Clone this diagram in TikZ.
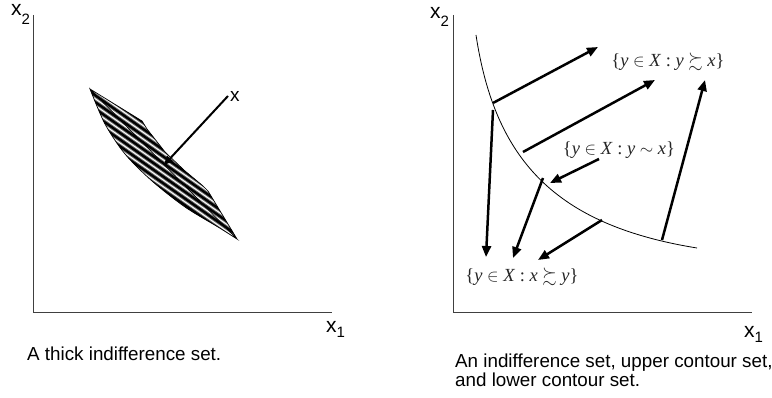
\documentclass[tikz,border=0pt]{standalone}
\usepackage{amssymb}
\usepackage{fontspec}
\setmainfont{Liberation Sans}
\newfontfamily\tms{Liberation Serif}
\usetikzlibrary{arrows.meta}
\begin{document}
\begin{tikzpicture}[x=1pt,y=-1pt,
  axis/.style={draw=black!75, line width=1pt},
  arr/.style={line width=2.5pt, -{Triangle[length=11pt,width=9pt]}},
  thinarr/.style={line width=2pt, -{Triangle[length=9pt,width=8pt]}},
  lbl/.style={inner sep=0pt, anchor=base west, font=\fontsize{21}{24}\selectfont},
  captxt/.style={inner sep=0pt, anchor=base west, font=\fontsize{18.8}{21}\selectfont},
  setl/.style={inner sep=0pt, font=\fontsize{18.5}{20}\selectfont\tms, text=black!85}]
\useasboundingbox (0,0) rectangle (772,398);

% ---------- left panel ----------
\coordinate (ly) at (33,15);
\coordinate (lo) at (33,313);
\coordinate (lx) at (332,313);
\draw[axis] (ly) -- (lo) -- (lx);
\node[lbl] (lx2) at (11,16) {x\raisebox{-9pt}{\fontsize{15}{15}\selectfont 2}};
\node[lbl] (lx1) at (326,333) {x\raisebox{-5pt}{\fontsize{15}{15}\selectfont 1}};

% thick indifference band
\def\band{(90,89) -- (142,121) -- (147,129) -- (165,152) -- (185,171) -- (203,186) -- (208,191) -- (237,239)
  plot[smooth] coordinates {(237,239) (218,227) (185,207) (152,181) (125,154) (105,124) (90,89)} -- cycle}
\begin{scope}
  \clip \band;
  \begin{scope}[shift={(163,163)}, rotate=-35]
    \foreach \k in {-30,...,30} {
      \draw[line width=4.2pt, black!55] (-150,\k*5.5) -- (150,\k*5.5);
      \draw[line width=2.3pt, black] (-150,\k*5.5) -- (150,\k*5.5);
    }
  \end{scope}
\end{scope}
\draw[line width=0.7pt] \band;

\node[lbl, font=\fontsize{19}{20}\selectfont] (xl) at (230,102) {x};
\coordinate (xs) at (228,96);
\coordinate (xt) at (164,165);
\draw[thinarr] (xs) -- (xt);

\node[captxt] (cap1) at (27,361) {A thick indifference set.};

% ---------- right panel ----------
\coordinate (ry) at (453,15);
\coordinate (ro) at (453,313);
\coordinate (rx) at (752,313);
\draw[axis] (ry) -- (ro) -- (rx);
\node[lbl] (rx2) at (430,19) {x\raisebox{-8pt}{\fontsize{15}{15}\selectfont 2}};
\node[lbl] (rx1) at (744,338) {x\raisebox{-5pt}{\fontsize{15}{15}\selectfont 1}};

\coordinate (c0) at (476,35);
\coordinate (c1) at (697,248);
\draw[line width=0.8pt] (c0) .. controls (495,160) and (555,225) .. (c1);

\node[setl] (up) at (668,62) {\{\textit{y} $\in$ \textit{X} : \textit{y} $\succsim$ \textit{x}\}};
\node[setl] (ind) at (619,150) {\{\textit{y} $\in$ \textit{X} : \textit{y} $\sim$ \textit{x}\}};
\node[setl] (low) at (522,277) {\{\textit{y} $\in$ \textit{X} : \textit{x} $\succsim$ \textit{y}\}};

\coordinate (a1s) at (493,103); \coordinate (a1e) at (598,47);
\coordinate (a2s) at (523,152); \coordinate (a2e) at (655,80);
\coordinate (a3s) at (662,240); \coordinate (a3e) at (705,80);
\coordinate (a4s) at (493,110); \coordinate (a4e) at (486,257);
\coordinate (a5s) at (543,178); \coordinate (a5e) at (513,258);
\coordinate (a6s) at (602,220); \coordinate (a6e) at (538,260);
\coordinate (a7s) at (599,159); \coordinate (a7e) at (550,183);
\draw[arr] (a1s) -- (a1e);
\draw[arr] (a2s) -- (a2e);
\draw[arr] (a3s) -- (a3e);
\draw[arr] (a4s) -- (a4e);
\draw[arr] (a5s) -- (a5e);
\draw[arr] (a6s) -- (a6e);
\draw[arr] (a7s) -- (a7e);

\node[captxt] (cap2a) at (455,367) {An indifference set, upper contour set,};
\node[captxt] (cap2b) at (455,387) {and lower contour set.};
\end{tikzpicture}
\end{document}
